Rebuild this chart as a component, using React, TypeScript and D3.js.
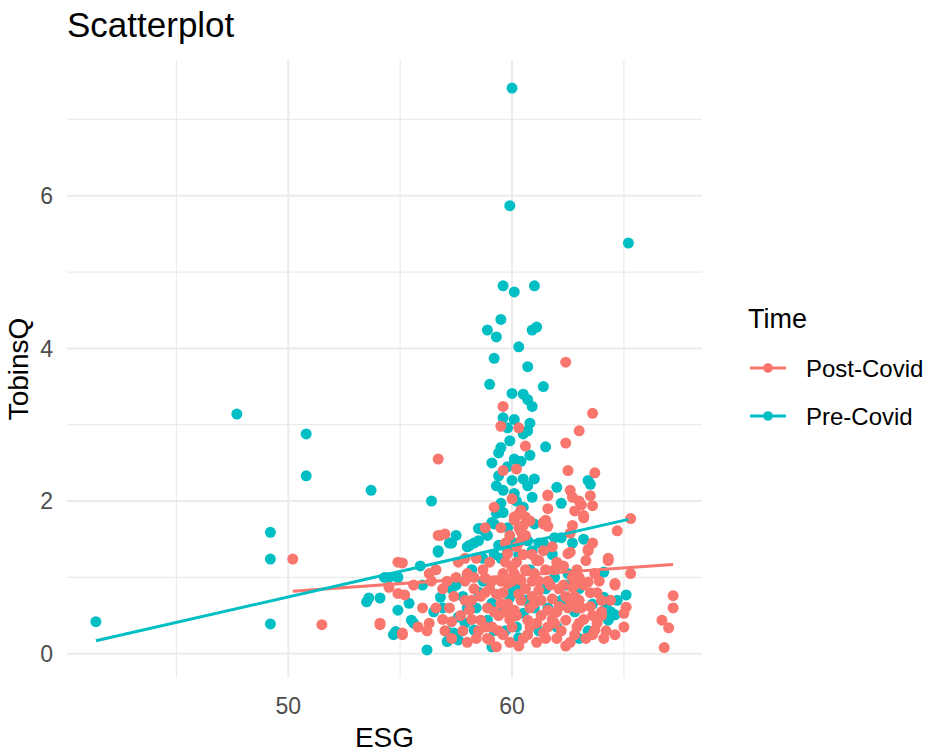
import React from "react";
import * as d3 from "d3";

const preCovid: [number, number][] = [
  [41.4,0.42],[47.7,3.14],[50.8,2.88],[50.8,2.33],[49.2,1.59],[49.2,1.24],[49.2,0.39],[53.7,2.14],[60.0,7.41],[59.9,5.87],[65.2,5.38],
  [59.6,4.82],[60.1,4.74],[61.0,4.82],[59.5,4.38],[58.9,4.24],[59.3,4.15],[60.3,4.02],[61.1,4.28],[60.9,4.24],[59.2,3.87],[60.7,3.76],
  [59.0,3.53],[60.0,3.41],[60.5,3.40],[60.7,3.33],[60.9,3.24],[61.4,3.50],
  [59.6,3.09],[60.1,3.07],[60.8,3.02],[59.8,2.96],[60.7,2.92],[60.5,2.88],
  [59.9,2.79],[61.5,2.71],[59.4,2.63],[59.1,2.50],[60.1,2.55],[60.4,2.52],[59.4,2.33],[56.4,2.00],
  [60.0,2.27],[60.5,2.29],[61.0,2.29],[59.6,2.14],[60.1,2.10],[60.9,2.05],[63.4,2.27],[63.5,2.22],[62.0,2.18],[62.2,1.97],
  [59.5,1.97],[59.3,1.84],[59.1,1.72],[60.5,1.92],[58.6,1.64],[58.8,1.59],[60.5,1.55],
  [56.7,1.33],[57.2,1.45],[57.5,1.55],[58.0,1.40],[58.3,1.45],[58.5,1.64],[58.9,1.55],[59.2,1.70],[61.2,1.45],[61.4,1.45],[61.9,1.52],[62.2,1.52],
  [54.9,1.0],[54.5,1.0],[54.3,1.0],[53.6,0.73],[53.5,0.68],[54.1,0.73],[54.9,0.57],[55.4,0.66],[55.5,0.44],[55.6,0.40],[54.7,0.25],[54.8,0.29],
  [56.2,0.05],[59.1,0.09],[57.1,0.16],[57.4,0.21],[57.5,0.22],[60.3,0.21],
  [64.2,0.60],[64.4,0.55],[64.6,0.51],[64.7,0.70],[65.1,0.77],[64.1,0.74],[64.3,0.44],
  [56.7,1.35],[57.3,1.45],[58.1,1.42],[58.5,1.48],[59.4,1.42],[59.5,1.25],[60.1,1.45],[60.7,1.48],[57.5,0.9],[56.8,0.74],[57.6,0.48],
  [57.1,0.29],[57.5,0.25],[58.3,0.31],[58.5,0.81],[59.1,0.66],[58.9,0.44],[59.9,0.74],[60.2,0.9],[61.9,1.0],[60.5,0.53],
  [60.0,0.8],[61.0,0.6],[62.0,0.35],[62.8,0.55],[63.4,0.3],[58.0,0.6],[59.7,0.3],[61.5,0.85],[62.5,1.05],[60.8,1.1],[58.2,1.1],
  [57.8,0.75],[63.0,0.85],[56.5,0.55],[57.4,0.27],[57.6,0.18],[64.1,1.07],[62.2,0.7],
  [56.9,0.6],[57.3,0.85],[57.9,0.4],[58.4,0.6],[58.7,0.95],[59.2,0.3],[59.6,0.62],[60.2,0.35],[60.6,0.7],[61.2,0.3],[61.6,0.6],[62.4,0.9],
  [63.0,0.2],[63.6,0.65],[59.8,1.35],[60.3,1.3],[59.2,1.3],[60.9,1.35],[62.7,1.45],[63.2,1.5],[61.0,1.7],[59.8,1.65],[59.6,1.85],[60.2,2.0],
  [59.3,2.2],[60.7,2.2],[59.8,2.45],[59.5,2.7],[60.8,2.6],[58.0,1.0],[56.0,0.9],[55.9,1.15],[58.7,1.25],[61.8,1.3]
];

const postCovid: [number, number][] = [
  [62.4,3.82],[59.6,3.24],[59.5,2.98],[60.3,2.96],[60.6,2.72],[63.6,3.15],[63.0,2.92],[62.4,2.76],[56.7,2.55],[62.5,2.40],[63.7,2.37],[60.2,2.42],[59.6,2.40],
  [61.6,2.07],[61.6,1.90],[62.6,2.14],[63.0,2.0],[63.5,2.07],[63.6,1.94],[63.2,1.81],[62.7,1.68],[59.2,1.92],[60.0,2.03],[60.4,1.88],[60.6,1.79],
  [60.1,1.79],[60.3,1.65],[61.4,1.72],[58.8,1.65],[56.7,1.55],[56.8,1.55],[65.3,1.77],[64.7,1.61],[62.6,1.33],[63.4,1.35],[63.3,1.22],[61.1,1.22],
  [64.3,1.22],[65.3,1.05],[63.6,1.45],[61.8,1.40],
  [51.5,0.38],[54.1,0.38],[55.1,0.25],[54.9,0.79],[54.9,1.20],[50.2,1.24],[67.2,0.76],[67.2,0.60],[66.7,0.44],[67.0,0.34],[66.8,0.08],[59.3,0.09],
  [64.6,0.25],[65.0,0.35],[65.1,0.61],[65.0,0.53],[63.4,0.94],[64.6,0.92],[62.8,0.96],
  [55.1,1.19],[54.5,0.87],[55.2,0.77],[54.1,0.40],[55.1,0.27],[57.0,1.57],[56.3,1.05],[56.6,0.60],[57.3,0.42],[57.9,0.70],[58.1,0.57],[58.8,0.99],
  [58.6,0.44],[58.8,0.35],[59.1,0.35],[59.5,0.66],[59.8,1.31],[60.0,1.13],[59.8,0.92],[60.4,0.96],[60.1,0.57],[60.7,0.44],[61.0,0.66],[61.6,0.57],
  [61.4,0.27],[61.9,0.40],[62.4,0.44],[62.6,0.70],[62.7,0.87],[61.2,0.83],[61.2,1.22],[62.5,1.31],[61.4,1.70],[60.4,1.48],
  [61.6,2.08],[62.7,2.05],[63.1,1.95],[62.8,1.87],[63.2,1.78],[60.3,1.83],[60.1,1.75],[60.5,1.68],[60.4,1.6],[60.8,1.74],[61.5,1.75],[61.6,1.67],
  [62.6,1.58],[59.5,1.65],
  [57.5,1.0],[58.0,1.05],[58.3,0.85],[58.6,0.75],[59.0,0.85],[59.3,0.78],[59.7,0.55],[59.9,0.45],[60.3,0.78],[60.6,0.85],[60.9,0.95],[61.3,0.5],
  [61.8,0.72],[62.1,0.62],[62.3,0.9],[62.9,0.6],[63.2,0.45],[63.5,0.62],[63.8,0.8],[64.0,0.5],[63.6,0.25],[62.8,0.25],[62.0,0.2],[61.1,0.15],
  [60.5,0.2],[59.9,0.15],[59.0,0.18],[58.4,0.2],[57.8,0.3],[57.2,0.6],[56.9,0.85],[56.4,0.95],[56.0,0.6],[56.2,0.3],[57.6,1.2],[58.4,1.25],
  [59.0,1.2],[59.6,1.05],[60.0,0.95],[60.2,1.2],[60.5,1.3],[61.0,1.05],[61.5,1.1],[62.0,1.2],[62.9,1.1],[63.7,1.05],[64.0,0.7],[64.2,0.3],
  [59.4,0.5],[58.9,0.6],[60.8,0.35],[61.6,0.35],[62.4,0.1],[63.0,0.4],[59.6,0.25],[58.2,0.45],[57.4,0.75],
  [63.4,1.37],[64.3,1.25],[64.6,0.9],[63.0,1.0],[62.8,0.9],[64.0,0.55],[63.7,0.31],
  [56.9,0.45],[57.1,0.95],[57.3,0.2],[57.7,0.5],[57.9,0.95],[58.0,0.15],[58.2,0.7],[58.5,0.3],[58.7,1.1],[58.9,0.2],[59.1,0.95],[59.2,0.55],
  [59.4,0.3],[59.6,0.8],[59.7,1.2],[59.8,0.65],[60.0,0.35],[60.1,1.05],[60.2,0.5],[60.3,0.1],[60.4,0.7],[60.6,1.1],[60.7,0.25],[60.8,0.6],
  [60.9,1.3],[61.1,0.4],[61.2,0.95],[61.3,0.7],[61.4,1.35],[61.5,0.2],[61.7,0.9],[61.8,0.45],[61.9,1.1],[62.0,0.55],[62.1,0.85],[62.2,0.3],
  [62.3,1.15],[62.5,0.6],[62.6,0.15],[62.7,1.0],[62.8,0.75],[62.9,0.35],[63.1,0.6],[63.2,0.9],[63.3,0.2],[63.5,0.8],[63.6,0.5],[63.8,0.4],
  [63.9,0.95],[64.1,0.2],[59.9,1.55],[60.2,1.4],[59.7,1.45],[60.6,1.55],[58.3,1.0],[57.9,1.25],[56.6,1.1],[56.3,0.4],[55.8,0.35],[55.6,0.9],
  [57.0,0.3],[58.8,0.8],[59.5,0.95],[60.9,0.75],[61.6,0.95],[62.4,0.75],[63.0,0.7],[64.4,0.7]
];

// fitted lm lines (endpoints)
const preFit: [number, number][] = [[41.4, 0.17], [65.2, 1.76]];
const postFit: [number, number][] = [[50.2, 0.82], [67.2, 1.17]];

const seriesNames = ["Post-Covid", "Pre-Covid"];
const seriesColors = ["#F8766D", "#00BFC4"];
const xMajor = [50, 60];
const xMinor = [45, 55, 65];
const yMajor = [0, 2, 4, 6];
const yMinor = [1, 3, 5, 7];

const W = 929, H = 752;
const FONT = "'Liberation Sans', Arial, Helvetica, sans-serif";

export default function App() {
  const all = [...preCovid, ...postCovid];
  const xExt = d3.extent(all, d => d[0]) as [number, number];
  const yExt = d3.extent(all, d => d[1]) as [number, number];
  const xPad = (xExt[1] - xExt[0]) * 0.05;
  const yPad = (yExt[1] - yExt[0]) * 0.05;
  const x = d3.scaleLinear().domain([xExt[0] - xPad, xExt[1] + xPad]).range([67, 702]);
  const y = d3.scaleLinear().domain([yExt[0] - yPad, yExt[1] + yPad]).range([678, 60]);
  const [px0, px1] = x.range();
  const [py0, py1] = y.range();
  const line = d3.line<[number, number]>().x(d => x(d[0])).y(d => y(d[1]));
  const r = 5.5;

  return (
    <svg width={W} height={H} style={{ position: "absolute", left: 0, top: 0, background: "#fff" }} fontFamily={FONT}>
      {/* grid */}
      {yMinor.map(v => (
        <line key={"ym" + v} x1={px0} x2={px1} y1={y(v)} y2={y(v)} stroke="#EBEBEB" strokeWidth={1.2} />
      ))}
      {xMinor.map(v => (
        <line key={"xm" + v} x1={x(v)} x2={x(v)} y1={py0} y2={py1} stroke="#EBEBEB" strokeWidth={1.2} />
      ))}
      {yMajor.map(v => (
        <line key={"yM" + v} x1={px0} x2={px1} y1={y(v)} y2={y(v)} stroke="#EBEBEB" strokeWidth={2} />
      ))}
      {xMajor.map(v => (
        <line key={"xM" + v} x1={x(v)} x2={x(v)} y1={py0} y2={py1} stroke="#EBEBEB" strokeWidth={2} />
      ))}

      {/* points */}
      {preCovid.map((d, i) => (
        <circle key={"pre" + i} cx={x(d[0])} cy={y(d[1])} r={r} fill={seriesColors[1]} />
      ))}
      {postCovid.map((d, i) => (
        <circle key={"post" + i} cx={x(d[0])} cy={y(d[1])} r={r} fill={seriesColors[0]} />
      ))}

      {/* fitted lines */}
      <path d={line(postFit) || ""} stroke={seriesColors[0]} strokeWidth={3} fill="none" />
      <path d={line(preFit) || ""} stroke={seriesColors[1]} strokeWidth={3} fill="none" />

      {/* axis tick labels */}
      {yMajor.map(v => (
        <text key={"yt" + v} x={53} y={y(v)} dy="0.36em" textAnchor="end" fontSize={23} fill="#4D4D4D">{v}</text>
      ))}
      {xMajor.map(v => (
        <text key={"xt" + v} x={x(v)} y={714} textAnchor="middle" fontSize={23} fill="#4D4D4D">{v}</text>
      ))}

      {/* axis titles */}
      <text x={(px0 + px1) / 2} y={747} textAnchor="middle" fontSize={28} fill="#000">ESG</text>
      <text transform={`translate(28, ${(py0 + py1) / 2}) rotate(-90)`} textAnchor="middle" fontSize={28} fill="#000">TobinsQ</text>

      {/* title */}
      <text x={67} y={37} fontSize={35} fill="#000">Scatterplot</text>

      {/* legend */}
      <text x={748} y={328} fontSize={27} fill="#000">Time</text>
      {seriesNames.map((n, i) => {
        const cy = 368 + i * 48;
        return (
          <g key={n}>
            <line x1={750} x2={786} y1={cy} y2={cy} stroke={seriesColors[i]} strokeWidth={3} />
            <circle cx={768} cy={cy} r={4.8} fill={seriesColors[i]} />
            <text x={806} y={cy} dy="0.36em" fontSize={24} fill="#000">{n}</text>
          </g>
        );
      })}
    </svg>
  );
}
